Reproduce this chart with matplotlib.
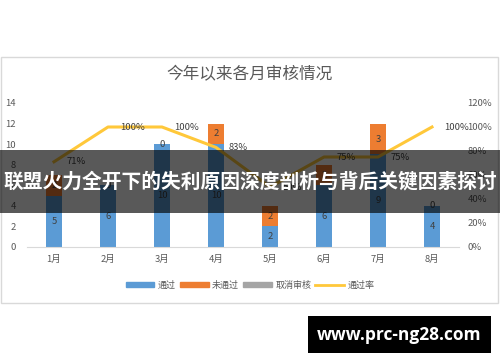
import matplotlib
matplotlib.use("Agg")
import matplotlib.pyplot as plt
from matplotlib.patches import Rectangle
from matplotlib.lines import Line2D
import numpy as np

plt.rcParams['font.family'] = ['Noto Sans CJK SC', 'DejaVu Sans']

months = ['1月', '2月', '3月', '4月', '5月', '6月', '7月', '8月']
passed = [5, 6, 10, 10, 2, 6, 9, 4]
failed = [2, 0, 0, 2, 2, 2, 3, 0]
cancelled = [0, 0, 0, 0, 0, 0, 0, 0]
pass_rate = [71, 100, 100, 83, 50, 75, 75, 100]
left_ticks = [0, 2, 4, 6, 8, 10, 12, 14]
right_ticks = [0, 20, 40, 60, 80, 100, 120]

title = '今年以来各月审核情况'
legend_names = ['通过', '未通过', '取消审核', '通过率']
banner_text = '联盟火力全开下的失利原因深度剖析与背后关键因素探讨'
watermark = 'www.prc-ng28.com'

c_blue = '#5B9BD5'
c_orange = '#ED7D31'
c_gray = '#A5A5A5'
c_yellow = '#FFC83A'
c_text = '#595959'

fig = plt.figure(figsize=(5.0, 3.62), dpi=100)
W, H = 500, 362

def fx(px):
    return px / W

def fy(py):
    return 1 - py / H

# chart border
fig.patches.append(Rectangle((fx(1), fy(303)), fx(497), (303 - 57) / H,
                             transform=fig.transFigure, fill=False,
                             edgecolor='#D9D9D9', linewidth=1.0))

ax = fig.add_axes([fx(27), fy(247), fx(459 - 27), (247 - 103) / H])
x = np.arange(len(months))
bw = 0.3
ax.bar(x, passed, bw, color=c_blue, zorder=2)
ax.bar(x, failed, bw, bottom=passed, color=c_orange, zorder=2)
bottom2 = np.array(passed) + np.array(failed)
ax.bar(x, cancelled, bw, bottom=bottom2, color=c_gray, zorder=2)

lab_kw = dict(ha='center', va='center', fontsize=6.8, color='#404040', zorder=3)
for i in range(len(months)):
    ax.text(x[i], passed[i] / 2, str(passed[i]), **lab_kw)
    ax.text(x[i], passed[i] + failed[i] / 2, str(failed[i]), **lab_kw)
    if cancelled[i] > 0:
        ax.text(x[i], bottom2[i] + cancelled[i] / 2, str(cancelled[i]), **lab_kw)

ax.set_xlim(-0.5, len(months) - 0.5)
ax.set_ylim(0, 14)
ax.set_yticks(left_ticks)
ax.set_xticks(x)
ax.set_xticklabels(months)
ax.tick_params(axis='both', length=0, labelsize=6.8, labelcolor=c_text)
ax.tick_params(axis='y', pad=8)
ax.tick_params(axis='x', pad=6)
for s in ['top', 'right', 'left']:
    ax.spines[s].set_visible(False)
ax.spines['bottom'].set_color('#D9D9D9')
ax.patch.set_alpha(0)

ax2 = ax.twinx()
ax2.plot(x, pass_rate, color=c_yellow, linewidth=2.2, zorder=4)
ax2.set_ylim(0, 120)
ax2.set_yticks(right_ticks)
ax2.set_yticklabels([f'{t}%' for t in right_ticks])
ax2.tick_params(axis='y', length=0, labelsize=6.8, labelcolor=c_text, pad=6)
for s in ['top', 'right', 'left', 'bottom']:
    ax2.spines[s].set_visible(False)
for i in range(len(months)):
    ax2.annotate(f'{pass_rate[i]}%', (x[i], pass_rate[i]), xytext=(9, 0),
                 textcoords='offset points', ha='left', va='center',
                 fontsize=6.8, color='#404040', zorder=5)

fig.text(0.5, fy(75), title, ha='center', va='center', fontsize=12, color=c_text)

handles = [Rectangle((0, 0), 1, 1, color=c_blue), Rectangle((0, 0), 1, 1, color=c_orange),
           Rectangle((0, 0), 1, 1, color=c_gray), Line2D([0], [0], color=c_yellow, lw=2)]
fig.legend(handles, legend_names, loc='center', bbox_to_anchor=(0.5, fy(285)), ncol=4,
           frameon=False, fontsize=6.5, labelcolor=c_text, handlelength=3.2,
           handleheight=0.6, columnspacing=0.4, handletextpad=0.4)

# banner overlay
fig.patches.append(Rectangle((0, fy(213)), 1, (213 - 150) / H, transform=fig.transFigure,
                             facecolor='black', alpha=0.65, edgecolor='none', zorder=10))
fig.text(0.5, fy(182), banner_text, ha='center', va='center', fontsize=14.2,
         fontweight='bold', color='white', zorder=11)

# watermark
fig.patches.append(Rectangle((fx(308), fy(353)), fx(491 - 308), (353 - 316) / H,
                             transform=fig.transFigure, facecolor='black',
                             edgecolor='none', zorder=10))
fig.text(fx(399.5), fy(334.5), watermark, ha='center', va='center', fontsize=12.5,
         fontweight='bold', color='white', zorder=11, family=['Open Sans', 'DejaVu Sans'])

fig.savefig('out.png', dpi=100)
